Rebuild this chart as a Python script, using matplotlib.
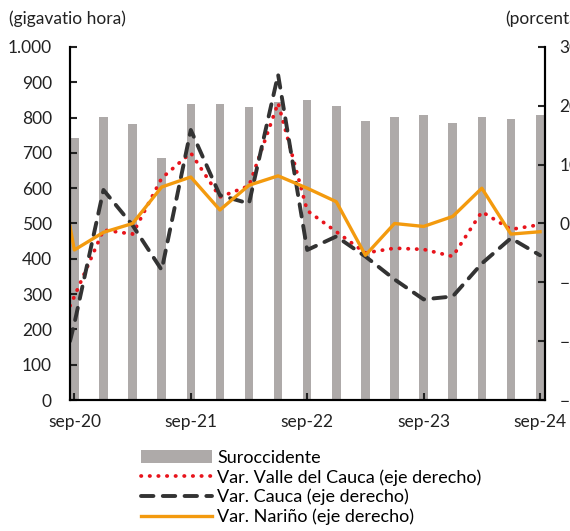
import matplotlib
matplotlib.use("Agg")
import matplotlib.pyplot as plt
import numpy as np

plt.rcParams['font.family'] = ['Lato', 'DejaVu Sans']
plt.rcParams['font.size'] = 12.5

# quarterly, sep-20 .. sep-24
quarters = ['sep-20', 'dic-20', 'mar-21', 'jun-21', 'sep-21', 'dic-21', 'mar-22', 'jun-22',
            'sep-22', 'dic-22', 'mar-23', 'jun-23', 'sep-23', 'dic-23', 'mar-24', 'jun-24', 'sep-24']
suroccidente = [742, 803, 781, 686, 838, 838, 831, 845, 850, 833, 789, 803, 807, 785, 803, 795, 807]

# line series (percent); first value is the point drawn at the left edge
valle = [-14.0, -12.4, -1.1, -1.8, 7.7, 12.0, 4.5, 6.4, 20.5, 2.2, -1.4, -5.0, -4.2, -4.4, -5.6, 2.0, -1.0, -0.2]
cauca = [-20.0, -17.0, 5.7, -0.3, -7.9, 15.9, 4.8, 3.4, 25.3, -4.5, -2.2, -5.6, -9.5, -12.9, -12.4, -6.8, -2.5, -5.4]
narino = [-0.5, -4.5, -1.5, 0.0, 6.2, 7.9, 2.3, 6.5, 8.1, 6.0, 3.7, -5.4, 0.0, -0.5, 1.2, 6.0, -1.8, -1.4]

x = np.arange(len(quarters))
x0 = -0.15
line_x = np.r_[x0, x]

fig = plt.figure(figsize=(5.7, 5.31), dpi=100)
ax = fig.add_axes([0.1228, 0.2467, 0.8333, 0.6648])
ax2 = ax.twinx()

bars = ax.bar(x, suroccidente, width=0.29, color='#AEAAA9', label='Suroccidente', zorder=1)
l1, = ax2.plot(line_x, valle, color='#E8141C', lw=2.7, ls=(0, (0.1, 2.2)),
               dash_capstyle='round', label='Var. Valle del Cauca (eje derecho)')
l2, = ax2.plot(line_x, cauca, color='#333333', lw=2.8, ls=(0, (3.2, 2.4)),
               dash_capstyle='round', label='Var. Cauca (eje derecho)')
l3, = ax2.plot(line_x, narino, color='#F39A0E', lw=2.4, label='Var. Nariño (eje derecho)')

ax.set_xlim(x0, 16.17)
ax.set_ylim(0, 1000)
ax2.set_ylim(-30, 30)
ax.set_yticks(np.arange(0, 1001, 100))
ax.set_yticklabels([f'{v:,}'.replace(',', '.') for v in range(0, 1001, 100)])
ax2.set_yticks(np.arange(-30, 31, 10))
ax.set_xticks(x[::4])
ax.set_xticklabels(quarters[::4])

for a in (ax, ax2):
    a.spines['top'].set_visible(False)
    for s in ('left', 'right', 'bottom'):
        a.spines[s].set_linewidth(1.5)
        a.spines[s].set_color('black')
ax.tick_params(axis='y', direction='in', length=5, width=1.5, pad=13, labelsize=12.5, colors='#222222')
ax.tick_params(axis='x', direction='in', length=5, width=1.5, pad=10, labelsize=12.5, colors='#222222')
ax2.tick_params(axis='y', direction='in', length=5, width=1.5, pad=10.5, labelsize=12.5, colors='#222222')

fig.text(0.016, 0.965, '(gigavatio hora)', fontsize=12.5, color='#222222', va='center')
fig.text(0.886, 0.965, '(porcentaje)', fontsize=12.5, color='#222222', va='center')

fig.legend(handles=[bars, l1, l2, l3], loc='upper left', bbox_to_anchor=(0.235, 0.166),
           frameon=False, fontsize=13, handlelength=3.9, labelspacing=0.17,
           borderaxespad=0, handletextpad=0.3)

fig.savefig('out.png', dpi=100)
